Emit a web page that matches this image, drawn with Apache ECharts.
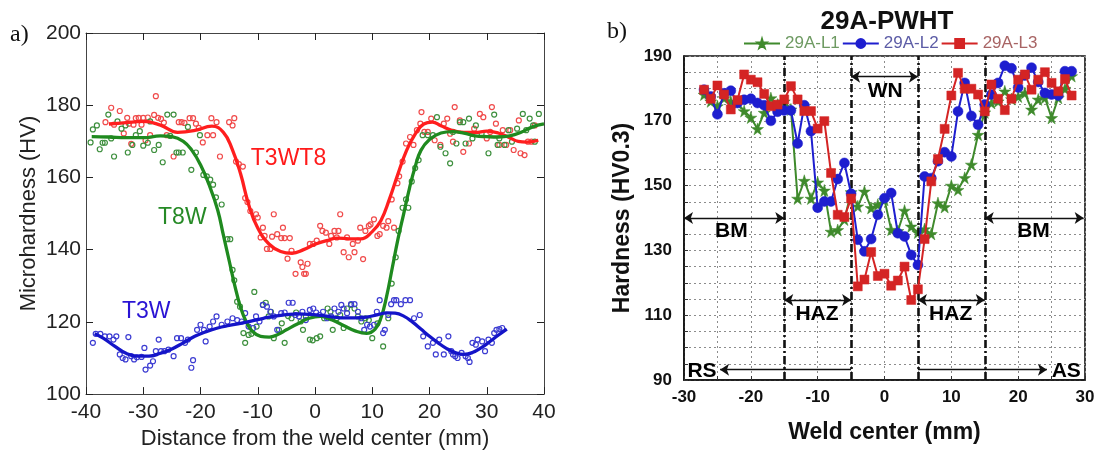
<!DOCTYPE html>
<html><head><meta charset="utf-8">
<script src="https://cdn.jsdelivr.net/npm/echarts@6/dist/echarts.min.js"></script>
<style>html,body{margin:0;padding:0;background:#fff}#c{width:1099px;height:455px}</style>
</head><body><div id="c"></div>
<script>
// ---------- Panel a) data ----------
const aRedX = [-36.6,-35.6,-35.1,-34.1,-33.4,-32.8,-32.5,-32.1,-31.7,-31.3,-30.8,-30.3,-30.0,-29.6,-29.2,-28.8,-28.1,-27.8,-27.4,-26.9,-26.4,-25.9,-24.7,-23.8,-23.3,-22.8,-21.9,-21.3,-20.8,-20.3,-19.6,-18.8,-18.1,-17.8,-17.2,-16.6,-15.0,-14.1,-14.4,-13.8,-13.3,-12.6,-12.2,-11.8,-11.3,-10.3,-10.0,-9.5,-9.1,-8.8,-8.4,-7.8,-7.2,-7.5,-6.6,-5.9,-5.6,-5.3,-4.8,-4.4,-4.1,-3.4,-2.5,-2.2,-1.9,-1.6,-1.3,-0.9,-0.3,0.3,0.9,1.3,1.9,2.5,2.8,3.4,3.8,4.1,4.4,5.0,5.6,5.9,6.6,6.9,7.5,7.9,8.4,8.8,9.4,9.7,10.3,10.9,11.3,11.9,12.5,12.8,13.4,13.8,14.4,14.7,15.3,15.9,16.6,17.2,17.8,18.6,18.4,19.1,19.7,20.3,20.9,21.9,22.5,23.1,23.6,24.1,24.4,25.3,25.9,26.9,27.8,28.8,29.4,30.0,30.6,30.9,31.6,32.2,32.8,33.4,34.1,34.7,35.6,35.9,36.6,37.2,37.8,38.4];
const aRedY = [175.3,179.3,174.6,178.4,172.2,176.5,174.9,169.3,174.6,176.4,176.5,174.6,176.5,170.3,176.6,171.7,177.3,182.5,176.5,176.2,175.2,171.7,165.8,175.3,175.3,175.1,176.4,176.4,174.9,173.7,169.7,171.7,176.4,171.7,175.3,165.8,175.3,176.4,174.4,164.4,163.7,163.0,154.3,153.2,150.7,149.8,148.9,143.4,146.1,143.8,140.2,140.2,149.8,143.6,144.3,143.2,146.1,143.2,137.5,143.2,139.7,133.3,136.5,135.2,133.3,133.3,136.1,141.6,141.6,142.5,146.6,145.2,144.7,141.6,143.8,145.2,143.4,145.2,149.8,139.3,143.4,137.9,141.6,139.3,142.5,146.1,137.4,145.2,146.6,147.0,148.4,143.8,144.3,146.6,146.1,147.9,153.9,146.1,158.4,160.3,164.4,169.4,171.2,169.0,173.1,178.1,174.9,172.6,172.6,176.3,170.3,169.0,174.9,176.3,172.1,169.9,179.5,175.8,167.1,169.4,173.5,177.6,176.7,170.8,172.6,179.5,174.9,169.0,173.1,169.0,173.1,167.6,175.8,166.7,166.2,169.9,169.9,174.4];

const aGreenX = [-39.2,-38.8,-38.1,-37.6,-37.1,-36.7,-36.1,-35.6,-35.1,-34.5,-33.8,-33.1,-32.7,-31.9,-31.3,-30.6,-30.0,-29.2,-28.8,-28.1,-27.3,-26.6,-25.8,-24.7,-25.3,-24.2,-23.8,-23.1,-22.2,-21.6,-20.8,-20.1,-19.5,-18.9,-18.3,-17.8,-17.3,-16.3,-15.3,-14.8,-14.4,-14.1,-13.6,-13.1,-12.5,-12.2,-11.6,-11.1,-10.6,-10.2,-9.1,-8.6,-8.1,-7.7,-7.2,-6.3,-5.8,-5.3,-4.7,-4.1,-3.3,-2.5,-2.1,-1.6,-0.9,-0.4,0.3,0.9,1.6,2.2,2.7,3.1,3.8,4.4,5.0,5.6,6.3,6.9,7.5,8.1,8.8,9.4,10.0,10.9,11.9,12.8,13.4,14.1,14.6,15.3,15.9,16.3,16.9,17.5,18.1,18.8,19.7,20.6,21.3,21.9,22.8,23.6,24.1,24.7,25.3,25.9,26.3,26.9,27.5,28.1,29.1,30.3,31.3,31.9,32.2,33.1,33.8,34.4,35.3,36.3,36.9,37.5,38.1,39.1,38.4];
const aGreenY = [169.7,173.3,174.4,167.8,169.6,169.6,177.4,170.8,165.8,175.5,173.5,174.4,166.9,169.0,171.7,172.8,168.8,169.6,175.5,167.6,169.0,164.2,177.4,177.4,171.5,166.9,166.9,166.9,174.0,162.1,166.9,171.7,160.7,160.3,159.4,158.0,154.5,152.5,142.9,142.9,134.4,131.5,125.6,124.2,116.9,114.2,116.4,116.7,128.3,118.7,124.7,125.3,121.5,122.8,115.5,117.8,119.6,114.2,121.6,121.0,122.6,120.1,117.8,121.5,115.1,114.9,115.5,116.0,121.0,123.7,122.8,117.8,121.0,121.9,118.3,123.7,124.7,123.7,121.5,120.1,121.0,120.5,115.5,119.6,113.2,121.0,130.6,137.9,145.2,151.6,153.9,151.6,158.9,162.6,164.8,171.7,171.7,171.7,176.7,168.5,166.7,163.9,172.6,169.4,175.3,175.3,169.4,176.3,170.8,174.4,172.1,166.7,177.4,169.0,170.8,169.0,173.1,169.9,173.5,177.6,173.1,176.3,174.4,177.6,169.9];

const aBlueX = [-38.8,-38.3,-37.5,-36.7,-35.9,-35.2,-34.7,-34.1,-33.6,-33.1,-32.6,-32.1,-31.6,-31.1,-30.3,-29.8,-29.6,-28.8,-28.3,-27.8,-27.3,-26.9,-26.3,-25.6,-24.7,-24.1,-23.4,-22.7,-22.2,-21.6,-21.3,-20.6,-20.0,-19.4,-19.1,-18.4,-17.8,-17.2,-16.3,-15.3,-14.4,-13.6,-12.8,-12.2,-11.6,-10.8,-10.3,-9.7,-9.1,-8.4,-7.8,-7.2,-6.6,-5.9,-5.3,-4.6,-3.9,-3.4,-2.8,-2.2,-1.6,-0.9,-0.3,0.2,0.8,1.4,2.1,2.8,3.4,4.1,4.6,5.0,5.6,6.3,6.9,7.5,8.1,8.6,9.1,9.6,10.3,10.8,11.3,11.9,12.2,12.8,13.3,13.8,14.2,15.0,15.8,16.6,17.3,18.3,18.9,19.7,20.6,21.1,21.7,22.5,23.3,23.8,24.1,24.5,24.9,25.6,26.3,26.7,27.0,27.5,28.1,28.4,29.2,29.7,30.3,30.9,31.3,31.7,32.2,32.7];
const aBlueY = [114.2,116.7,116.7,116.0,116.0,115.1,116.0,111.0,110.0,109.6,115.8,110.5,109.6,110.2,110.3,112.8,106.8,107.9,109.1,111.9,115.1,111.9,111.9,112.3,110.5,115.5,115.5,114.2,115.1,107.3,109.4,117.8,119.2,117.8,114.6,118.7,120.1,121.5,119.2,120.1,121.0,120.5,120.1,122.4,118.7,118.3,121.5,120.1,124.7,124.2,122.8,121.5,117.8,122.4,122.6,125.3,125.3,121.9,121.5,122.8,120.5,123.3,123.7,122.6,121.9,122.8,121.0,121.5,123.7,122.8,124.7,123.7,122.4,124.9,124.9,122.8,121.0,117.8,119.2,118.7,119.2,122.8,126.0,116.9,117.8,121.9,124.9,126.0,126.0,124.9,126.0,126.0,121.0,121.9,116.0,113.2,114.2,111.0,115.1,111.0,116.0,111.9,111.0,110.5,110.0,111.4,110.5,110.0,108.9,114.2,113.7,115.1,114.6,111.9,115.1,114.2,116.9,117.8,118.0,118.3];

// fitted curves
const aRedCurveX = [-36,-33,-30,-27,-24,-21,-18,-16,-14.5,-13,-11.5,-10,-8,-6,-4,-2,0,2,4,6,8,10,11.5,13,14.5,16,17.5,19,20.5,22,24,26,28,30,32,34,35.5,37,39];
const aRedCurveY = [174.8,175.2,175.5,174.5,172.5,173,174.2,172.5,168,161,152,146,141.5,139.5,139,140,141.5,142.5,143.2,143,143,145,148,154,161,167.5,172,174.8,175.3,174.3,173,172.5,172.5,172.8,172.3,171,170,169.8,170.3];
const aGreenCurveX = [-39,-36,-33,-30,-27,-25,-23,-21.5,-20,-18.5,-17,-16,-15,-14,-13,-12,-11,-9.5,-8,-6.5,-5,-3,-1,1,3,5,7,9,10.5,11.5,12.5,13.5,14.5,15.5,16.5,17.5,18.5,20,22,24,26,28,30,32,34,36,38,40];
const aGreenCurveY = [171.3,171.2,171,171,171.5,171.3,170,167.5,163.5,158,151,144,137,130,124,120,117.5,116,115.8,116.5,117.8,119.5,121,121.5,120.5,119,117.5,116.8,118,121,127,135,143,150,157,163,167.5,170.5,172.3,172.7,172.3,171.5,171.3,171.2,171.5,172.5,174,174.8];
const aBlueCurveX = [-38.5,-37,-35,-33,-31,-29,-27,-25,-23,-21,-19,-17,-15,-13,-11,-9,-7,-5,-3,-1,1,3,5,7,9,11,12.5,14,15.5,17,18.5,20,21.5,23,24.5,26,27.5,29,30.5,32,33.5];
const aBlueCurveY = [116.7,115.5,113.3,111.3,110.5,110.5,111.3,112.5,114.2,116,117.3,118.3,119,119.6,120.3,121,121.6,122,122.2,122.1,121.8,121.4,121.1,121.1,121.3,122,122.5,122.4,121.6,120,118,116,114.2,112.6,111.5,111,111.5,112.8,114.5,116.3,118];

const aCurveNames = ['T3WT8','T8W','T3W'];
const aNoteX = [-11.3,-27.5,-33.8];
const aNoteY = [165.3,148.8,122.8];
const aXTicks = [-40,-30,-20,-10,0,10,20,30,40];
const aYTicks = [100,120,140,160,180,200];

// ---------- Panel b) data ----------
const bX = [-27,-26,-25,-24,-23,-22,-21,-20,-19,-18,-17,-16,-15,-14,-13,-12,-11,-10,-9,-8,-7,-6,-5,-4,-3,-2,-1,0,1,2,3,4,5,6,7,8,9,10,11,12,13,14,15,16,17,18,19,20,21,22,23,24,25,26,27,28];
const bL1 = [178.1,176.0,174.5,177,176,175.5,173,171,167.5,172.5,177,175,176,173.5,146,151.5,146,151,148.5,135.8,136.3,139.5,148,143.6,148.2,143.1,144.1,145.6,136.4,136,142.3,137.4,135.5,136.6,135.1,144.6,143.4,150,148.7,152.4,156.5,165.7,172.6,175.5,176,179.1,176.7,177.5,178.6,173.5,176.6,177.1,170.9,177.1,179.9,183.8];
const bL2 = [179.6,177.5,172,178.5,179.3,175.5,176.5,176.8,175.5,174.8,170,172.8,173.2,173.2,163,174.8,166.8,143.2,145.1,145.1,152,157,147.5,133.3,129.7,133.5,141,146.1,147.7,135.3,134.3,128.6,125.5,152.8,152.3,157.5,160.3,159,172.9,181.7,171.5,168.8,175,178.1,181.7,187,186.2,180.3,184,186.4,182,178.6,178.1,177.8,185.3,185.3];
const bL3 = [179.6,176.8,180.9,178.1,173.5,176.4,184.3,182.7,181.9,178.3,174.5,175,176.6,180.7,176.6,173,173,167.6,169.9,153.9,141,140.3,146,118.9,121,129.5,122.1,122.8,119.1,120.7,125,114.7,118,133.5,151.3,158.2,167.5,177.8,184.8,179.9,179.9,178.1,172.9,181.2,176.8,173.3,176.8,182.7,184.3,179.6,182.7,185,181.7,179.1,182.9,177.8];
const bNames = ['29A-L1','29A-L2','29A-L3'];
const bXTicks = [-30,-20,-10,0,10,20,30];
const bYTicks = [90,110,130,150,170,190];
const bZoneBounds = [-15,-5,5,15];
// annotation arrows: [x1, y1, x2, y2, head] (head: both/start/end)
const bArrows = [[-30,140,-15,140,'both'],[15,140,29.8,140,'both'],[-15,114.7,-5,114.7,'both'],[5,114.7,15,114.7,'both'],[-5,183.6,5,183.6,'both'],[-24.6,93.2,-5,93.2,'start'],[5,93.2,24.3,93.2,'end']];
const bNoteText = ['BM','BM','HAZ','HAZ','WN','RS','AS'];
const bNoteX = [-22.9,22.3,-10.1,9.9,0.1,-27.3,27.2];
const bNoteY = [135.8,135.8,110.2,110.2,179.2,92.8,92.8];

// ---------- build ----------
const zip = (xs, ys) => xs.map((x, i) => [x, ys[i]]);
const SANS = "'Liberation Sans', Arial, sans-serif";
const aCol = {red:'#ff1e1e', green:'#1f8a1f', blue:'#1414c8'};
const aPtCol = {red:'#f04a4a', green:'#3d8f3d', blue:'#3c3cd2'};
const aNoteCol = ['#ff1a1a', '#268a26', '#2a14d4'];
const bCol = ['#3f8a2c', '#1e1ecf', '#d42424'];
const STAR = 'path://M50,0 L61,35 L98,35 L68,57 L79,91 L50,70 L21,91 L32,57 L2,35 L39,35 Z';

const chart = echarts.init(document.getElementById('c'));

const aAxisCommon = {type:'value', axisLine:{show:true, onZero:false, lineStyle:{color:'#444', width:1}},
  axisTick:{show:true, inside:true, length:7, lineStyle:{color:'#222', width:1}},
  splitLine:{show:false}};

const scatterA = (xs, ys, c) => ({type:'scatter', xAxisIndex:0, yAxisIndex:0, data: zip(xs, ys),
  symbol:'circle', symbolSize:5, itemStyle:{color:'rgba(255,255,255,0)', borderColor:c, borderWidth:1.2, opacity:1}, z:2, silent:true});
const curveA = (xs, ys, c) => ({type:'line', xAxisIndex:0, yAxisIndex:0, data: zip(xs, ys), smooth:0.45,
  showSymbol:false, lineStyle:{color:c, width:3.3}, z:3, silent:true});

const lineB = (ys, i, sym, size) => ({name:bNames[i], type:'line', xAxisIndex:2, yAxisIndex:2, data: zip(bX, ys),
  symbol:sym, symbolSize:size, showSymbol:true, lineStyle:{color:bCol[i], width:2},
  itemStyle:{color:bCol[i], borderColor:bCol[i], borderWidth:0.5}, z:4+i});

const arrowData = bArrows.map(a => [
  {coord:[a[0], a[1]], symbol: (a[4]==='both'||a[4]==='start') ? 'arrow' : 'none'},
  {coord:[a[2], a[3]], symbol: (a[4]==='both'||a[4]==='end') ? 'arrow' : 'none'}
]);

const option = {
  animation:false,
  backgroundColor:'#fff',
  grid:[
    {left:86, top:33, width:458, height:365, containLabel:false, show:false},
    {left:684, top:56, width:401, height:324, containLabel:false, show:true, borderColor:'#111', borderWidth:1.6, backgroundColor:'transparent'}
  ],
  xAxis:[
    Object.assign({}, aAxisCommon, {gridIndex:0, position:'bottom', min:-40, max:40, interval:10,
      axisLabel:{show:true, fontSize:21, color:'#222', fontFamily:SANS, margin:8,
        formatter:v => aXTicks.includes(v) ? String(v) : ''},
      name:'Distance from the weld center (mm)', nameLocation:'middle', nameGap:33,
      nameTextStyle:{fontSize:22, color:'#222', fontFamily:SANS}}),
    Object.assign({}, aAxisCommon, {gridIndex:0, position:'top', min:-40, max:40, interval:10, axisLabel:{show:false}}),
    {gridIndex:1, type:'value', position:'bottom', min:-30, max:30, interval:5,
      axisLine:{show:true, onZero:false, lineStyle:{color:'#111', width:1.6}},
      axisTick:{show:true, inside:true, length:4, lineStyle:{color:'#333'}},
      axisLabel:{fontSize:17, fontWeight:'bold', color:'#111', fontFamily:SANS, margin:9,
        formatter:v => bXTicks.includes(v) ? String(v) : ''},
      splitLine:{show:true, lineStyle:{color:'#8c8c8c', type:[2,3], width:1}},
      name:'Weld center (mm)', nameLocation:'middle', nameGap:41,
      nameTextStyle:{fontSize:23, fontWeight:'bold', color:'#111', fontFamily:SANS}}
  ],
  yAxis:[
    Object.assign({}, aAxisCommon, {gridIndex:0, position:'left', min:100, max:200, interval:20,
      axisLabel:{show:true, fontSize:21, color:'#222', fontFamily:SANS, margin:5,
        formatter:v => aYTicks.includes(v) ? String(v) : ''},
      name:'Microhardness (HV)', nameLocation:'middle', nameGap:46,
      nameTextStyle:{fontSize:22, color:'#222', fontFamily:SANS}}),
    Object.assign({}, aAxisCommon, {gridIndex:0, position:'right', min:100, max:200, interval:20, axisLabel:{show:false}}),
    {gridIndex:1, type:'value', position:'left', min:90, max:190, interval:5,
      axisLine:{show:true, onZero:false, lineStyle:{color:'#111', width:1.6}},
      axisTick:{show:true, inside:true, length:4, lineStyle:{color:'#333'}},
      axisLabel:{fontSize:17, fontWeight:'bold', color:'#111', fontFamily:SANS, margin:12,
        formatter:v => bYTicks.includes(v) ? String(v) : ''},
      splitLine:{show:true, lineStyle:{color:'#8c8c8c', type:[2,3], width:1}},
      name:'Hardness (HV0.3)', nameLocation:'middle', nameGap:50,
      nameTextStyle:{fontSize:23, fontWeight:'bold', color:'#111', fontFamily:SANS}}
  ],
  legend:{
    data:[
      {name:bNames[0], textStyle:{color:'#6e9a62'}},
      {name:bNames[1], textStyle:{color:'#5c5ca6'}},
      {name:bNames[2], textStyle:{color:'#a86464'}}
    ],
    left:743, top:35, itemWidth:36, itemHeight:11, itemGap:2, padding:0,
    textStyle:{fontSize:17, fontFamily:SANS}, selectedMode:false
  },
  graphic:[
    {type:'text', x:10, y:35, style:{text:'a)', font:"24px 'Liberation Serif', serif", fill:'#111', textVerticalAlign:'middle'}},
    {type:'text', x:607, y:32, style:{text:'b)', font:"24px 'Liberation Serif', serif", fill:'#111', textVerticalAlign:'middle'}},
    {type:'text', x:887, y:22, style:{text:'29A-PWHT', font:"bold 26px 'Liberation Sans', Arial, sans-serif", fill:'#111', textAlign:'center', textVerticalAlign:'middle'}}
  ],
  series:[
    scatterA(aRedX, aRedY, aPtCol.red),
    scatterA(aGreenX, aGreenY, aPtCol.green),
    scatterA(aBlueX, aBlueY, aPtCol.blue),
    curveA(aRedCurveX, aRedCurveY, aCol.red),
    curveA(aGreenCurveX, aGreenCurveY, aCol.green),
    curveA(aBlueCurveX, aBlueCurveY, aCol.blue),
    {type:'scatter', xAxisIndex:0, yAxisIndex:0, symbolSize:1, itemStyle:{color:'rgba(0,0,0,0)', opacity:1}, silent:true, z:6,
      data: aCurveNames.map((n, i) => ({name:n, value:[aNoteX[i], aNoteY[i]],
        label:{show:true, position:'right', distance:0, formatter:'{b}', fontSize:23, fontFamily:SANS, color:aNoteCol[i], opacity:1}}))},
    // panel b zone boundaries
    {type:'line', xAxisIndex:2, yAxisIndex:2, data:[], silent:true, z:3,
      markLine:{silent:true, symbol:'none', label:{show:false}, animation:false,
        lineStyle:{color:'#111', width:2.6, type:[8,3,2,3]},
        data: bZoneBounds.map(x => ({xAxis:x}))}},
    // panel b arrows
    {type:'line', xAxisIndex:2, yAxisIndex:2, data:[], silent:true, z:3,
      markLine:{silent:true, symbolSize:[9,9], label:{show:false}, animation:false,
        lineStyle:{color:'#111', width:1.3, type:'solid'},
        data: arrowData}},
    lineB(bL1, 0, STAR, 12),
    lineB(bL2, 1, 'circle', 10),
    lineB(bL3, 2, 'rect', 9),
    {type:'scatter', xAxisIndex:2, yAxisIndex:2, symbolSize:1, itemStyle:{color:'rgba(0,0,0,0)', opacity:1}, silent:true, z:8,
      data: bNoteText.map((t, i) => ({name:t, value:[bNoteX[i], bNoteY[i]]})),
      label:{show:true, position:'inside', formatter:'{b}', fontSize:21, fontWeight:'bold', color:'#000', opacity:1, fontFamily:SANS}}
  ]
};
chart.setOption(option);
</script>
</body></html>
